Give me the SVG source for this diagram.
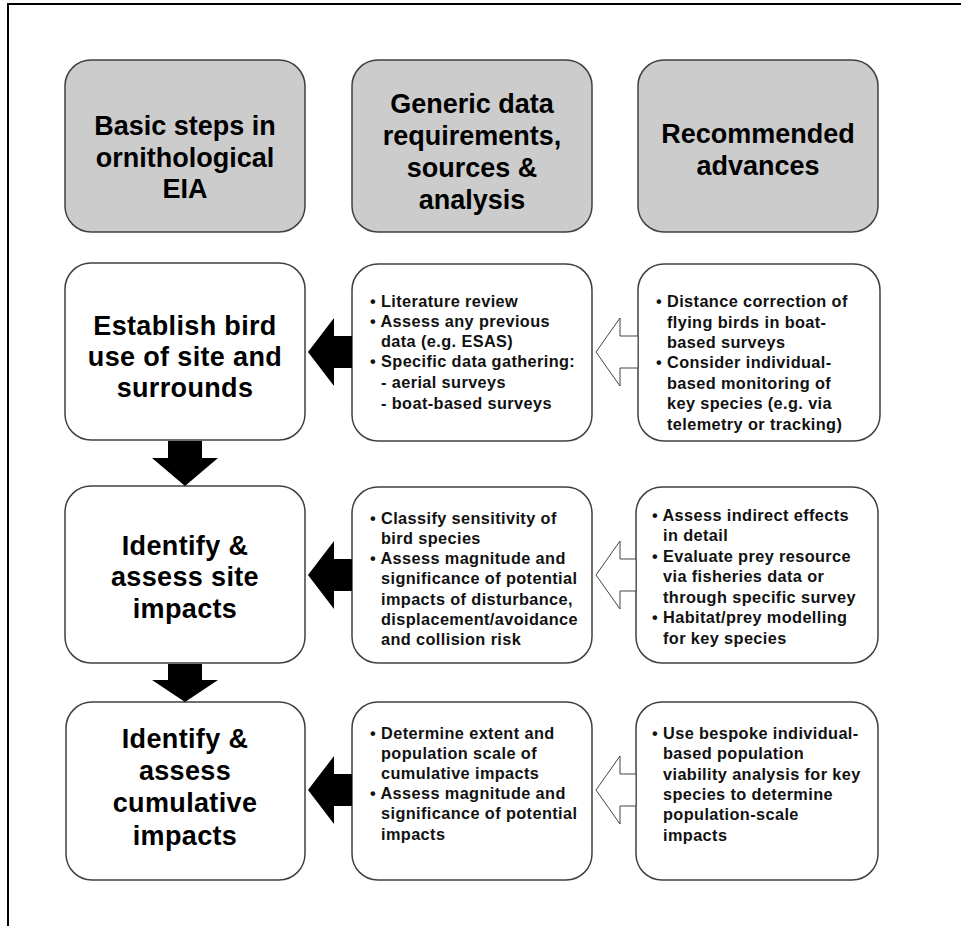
<svg xmlns="http://www.w3.org/2000/svg" width="961" height="926" viewBox="0 0 961 926">
<style>
.hdr{fill:#cccccc;stroke:#404040;stroke-width:1.5}
.box{fill:#ffffff;stroke:#404040;stroke-width:1.5}
.ht{font-family:"Liberation Sans",Arial,sans-serif;font-weight:bold;font-size:27px;fill:#000;text-anchor:middle}
.lt{font-family:"Liberation Sans",Arial,sans-serif;font-weight:bold;font-size:27px;fill:#000;text-anchor:middle;letter-spacing:0.35px}
.st{font-family:"Liberation Sans",Arial,sans-serif;font-weight:bold;font-size:16.3px;fill:#111;letter-spacing:0.4px}
.solid{fill:#000;stroke:none}
.hollow{fill:#fff;stroke:#444;stroke-width:1}
</style>
<rect width="961" height="926" fill="#fff"/>
<path d="M8,926 V4 H961" fill="none" stroke="#000" stroke-width="2"/>

<g id="h1"><rect class="hdr" x="65" y="60" width="240" height="172" rx="26"/>
<text class="ht" x="185" y="135">Basic steps in</text>
<text class="ht" x="185" y="167">ornithological</text>
<text class="ht" x="185" y="198">EIA</text></g>
<g id="h2"><rect class="hdr" x="352" y="60" width="240" height="172" rx="26"/>
<text class="ht" x="472" y="113">Generic data</text>
<text class="ht" x="472" y="145">requirements,</text>
<text class="ht" x="472" y="177">sources &amp;</text>
<text class="ht" x="472" y="209">analysis</text></g>
<g id="h3"><rect class="hdr" x="638" y="60" width="240" height="172" rx="26"/>
<text class="ht" x="758" y="143">Recommended</text>
<text class="ht" x="758" y="175">advances</text></g>

<g id="l1"><rect class="box" x="65" y="263" width="240" height="177" rx="26"/>
<text class="lt" x="185" y="335">Establish bird</text>
<text class="lt" x="185" y="366">use of site and</text>
<text class="lt" x="185" y="397">surrounds</text></g>
<g id="m1"><rect class="box" x="352" y="264" width="240" height="177" rx="26"/>
<text class="st" x="370" y="307">• Literature review</text>
<text class="st" x="370" y="327">• Assess any previous</text>
<text class="st" x="381" y="347">data (e.g. ESAS)</text>
<text class="st" x="370" y="367">• Specific data gathering:</text>
<text class="st" x="381" y="388">- aerial surveys</text>
<text class="st" x="381" y="409">- boat-based surveys</text></g>
<g id="r1"><rect class="box" x="638" y="264" width="242" height="177" rx="26"/>
<text class="st" x="656" y="307">• Distance correction of</text>
<text class="st" x="667" y="328">flying birds in boat-</text>
<text class="st" x="667" y="348">based surveys</text>
<text class="st" x="656" y="368">• Consider individual-</text>
<text class="st" x="667" y="389">based monitoring of</text>
<text class="st" x="667" y="409">key species (e.g. via</text>
<text class="st" x="667" y="430">telemetry or tracking)</text></g>

<g id="l2"><rect class="box" x="65" y="486" width="240" height="177" rx="26"/>
<text class="lt" x="185" y="555">Identify &amp;</text>
<text class="lt" x="185" y="586">assess site</text>
<text class="lt" x="185" y="618">impacts</text></g>
<g id="m2"><rect class="box" x="352" y="487" width="240" height="176" rx="26"/>
<text class="st" x="370" y="524">• Classify sensitivity of</text>
<text class="st" x="381" y="544">bird species</text>
<text class="st" x="370" y="564">• Assess magnitude and</text>
<text class="st" x="381" y="584">significance of potential</text>
<text class="st" x="381" y="605">impacts of disturbance,</text>
<text class="st" x="381" y="625">displacement/avoidance</text>
<text class="st" x="381" y="645">and collision risk</text></g>
<g id="r2"><rect class="box" x="636" y="487" width="242" height="176" rx="26"/>
<text class="st" x="652" y="521">• Assess indirect effects</text>
<text class="st" x="663" y="541">in detail</text>
<text class="st" x="652" y="562">• Evaluate prey resource</text>
<text class="st" x="663" y="582">via fisheries data or</text>
<text class="st" x="663" y="603">through specific survey</text>
<text class="st" x="652" y="623">• Habitat/prey modelling</text>
<text class="st" x="663" y="644">for key species</text></g>

<g id="l3"><rect class="box" x="66" y="702" width="239" height="178" rx="26"/>
<text class="lt" x="185" y="748">Identify &amp;</text>
<text class="lt" x="185" y="780">assess</text>
<text class="lt" x="185" y="812">cumulative</text>
<text class="lt" x="185" y="845">impacts</text></g>
<g id="m3"><rect class="box" x="352" y="702" width="240" height="178" rx="26"/>
<text class="st" x="370" y="739">• Determine extent and</text>
<text class="st" x="381" y="759">population scale of</text>
<text class="st" x="381" y="779">cumulative impacts</text>
<text class="st" x="370" y="799">• Assess magnitude and</text>
<text class="st" x="381" y="819">significance of potential</text>
<text class="st" x="381" y="840">impacts</text></g>
<g id="r3"><rect class="box" x="636" y="702" width="242" height="178" rx="26"/>
<text class="st" x="652" y="739">• Use bespoke individual-</text>
<text class="st" x="663" y="759">based population</text>
<text class="st" x="663" y="780">viability analysis for key</text>
<text class="st" x="663" y="800">species to determine</text>
<text class="st" x="663" y="820">population-scale</text>
<text class="st" x="663" y="841">impacts</text></g>

<g id="connectors">
<polygon class="solid" points="352,336 334,336 334,318 308,352 334,386 334,368 352,368"/>
<polygon class="solid" points="352,559 334,559 334,541 308,575 334,609 334,591 352,591"/>
<polygon class="solid" points="352,774 334,774 334,756 308,790 334,824 334,806 352,806"/>
<polygon class="hollow" points="638,336 620,336 620,318 596,352 620,386 620,368 638,368"/>
<polygon class="hollow" points="636,559 620,559 620,541 596,575 620,609 620,591 636,591"/>
<polygon class="hollow" points="636,774 620,774 620,756 596,790 620,824 620,806 636,806"/>
<polygon class="solid" points="168,441 202,441 202,458 218,458 185,486 152,458 168,458"/>
<polygon class="solid" points="168,664 202,664 202,680 218,680 185,702 152,680 168,680"/>
</g>
</svg>
